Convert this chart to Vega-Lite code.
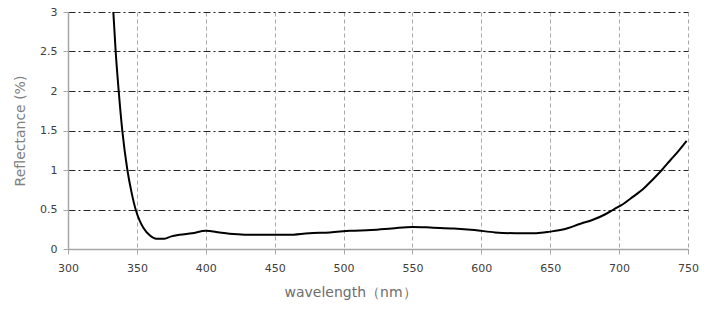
{
  "$schema": "https://vega.github.io/schema/vega-lite/v6.json",
  "width": 620,
  "height": 237,
  "autosize": {"type": "none"},
  "padding": {"left": 68, "top": 12, "right": 24, "bottom": 71},
  "background": "white",
  "config": {"view": {"stroke": null}},
  "data": {"values": [
    {"wl": 332.9, "r": 3.0},
    {"wl": 334.6, "r": 2.5},
    {"wl": 336.8, "r": 2.0},
    {"wl": 339.4, "r": 1.5},
    {"wl": 343.1, "r": 1.0},
    {"wl": 346.2, "r": 0.71},
    {"wl": 349.1, "r": 0.5},
    {"wl": 352, "r": 0.36},
    {"wl": 354.7, "r": 0.27},
    {"wl": 359.5, "r": 0.17},
    {"wl": 364, "r": 0.13},
    {"wl": 370, "r": 0.13},
    {"wl": 375, "r": 0.16},
    {"wl": 381, "r": 0.18},
    {"wl": 390, "r": 0.2},
    {"wl": 400, "r": 0.23},
    {"wl": 410, "r": 0.21},
    {"wl": 420, "r": 0.19},
    {"wl": 430, "r": 0.18},
    {"wl": 445, "r": 0.18},
    {"wl": 460, "r": 0.18},
    {"wl": 475, "r": 0.2},
    {"wl": 490, "r": 0.21},
    {"wl": 505, "r": 0.23},
    {"wl": 520, "r": 0.24},
    {"wl": 535, "r": 0.26},
    {"wl": 550, "r": 0.28},
    {"wl": 565, "r": 0.27},
    {"wl": 580, "r": 0.26},
    {"wl": 595, "r": 0.24},
    {"wl": 610, "r": 0.21},
    {"wl": 625, "r": 0.2},
    {"wl": 640, "r": 0.2},
    {"wl": 650, "r": 0.22},
    {"wl": 660, "r": 0.25},
    {"wl": 672, "r": 0.32},
    {"wl": 681, "r": 0.37},
    {"wl": 690, "r": 0.44},
    {"wl": 696, "r": 0.5},
    {"wl": 703, "r": 0.57},
    {"wl": 710, "r": 0.66},
    {"wl": 718, "r": 0.77},
    {"wl": 725, "r": 0.89},
    {"wl": 731, "r": 1.0},
    {"wl": 737, "r": 1.12},
    {"wl": 743, "r": 1.24},
    {"wl": 749, "r": 1.37}
  ]},
  "mark": {"type": "line", "color": "black", "strokeWidth": 2, "interpolate": "monotone", "clip": true},
  "encoding": {
    "x": {
      "field": "wl", "type": "quantitative",
      "scale": {"domain": [300, 750], "nice": false, "zero": false},
      "axis": {
        "values": [300, 350, 400, 450, 500, 550, 600, 650, 700, 750],
        "labelFlush": false,
        "title": "wavelength（nm）",
        "titleFont": "DejaVu Sans", "titleFontSize": 14, "titleFontWeight": "normal", "titleColor": "#6e6e6e",
        "titlePadding": 12, "titleX": 282, "titleAlign": "center",
        "labelFont": "DejaVu Sans", "labelFontSize": 11, "labelColor": "#404040", "labelPadding": 8,
        "domainColor": "#a6a6a6", "domainWidth": 1.5,
        "tickColor": "#a6a6a6", "tickSize": 5, "tickWidth": 1,
        "grid": true, "gridColor": "#a8a8a8", "gridDash": [4, 3], "gridWidth": 1
      }
    },
    "y": {
      "field": "r", "type": "quantitative",
      "scale": {"domain": [0, 3], "nice": false},
      "axis": {
        "values": [0, 0.5, 1, 1.5, 2, 2.5, 3],
        "format": "~g",
        "labelFlush": false,
        "title": "Reflectance (%)",
        "titleFont": "DejaVu Sans", "titleFontSize": 14, "titleFontWeight": "normal", "titleColor": "#808080",
        "titlePadding": 12,
        "labelFont": "DejaVu Sans", "labelFontSize": 11, "labelColor": "#404040", "labelPadding": 6,
        "domainColor": "#a6a6a6", "domainWidth": 1.5,
        "tickColor": "#a6a6a6", "tickSize": 5, "tickWidth": 1,
        "grid": true, "gridColor": "#262626", "gridDash": [7, 3, 2, 3], "gridWidth": 1
      }
    }
  }
}
